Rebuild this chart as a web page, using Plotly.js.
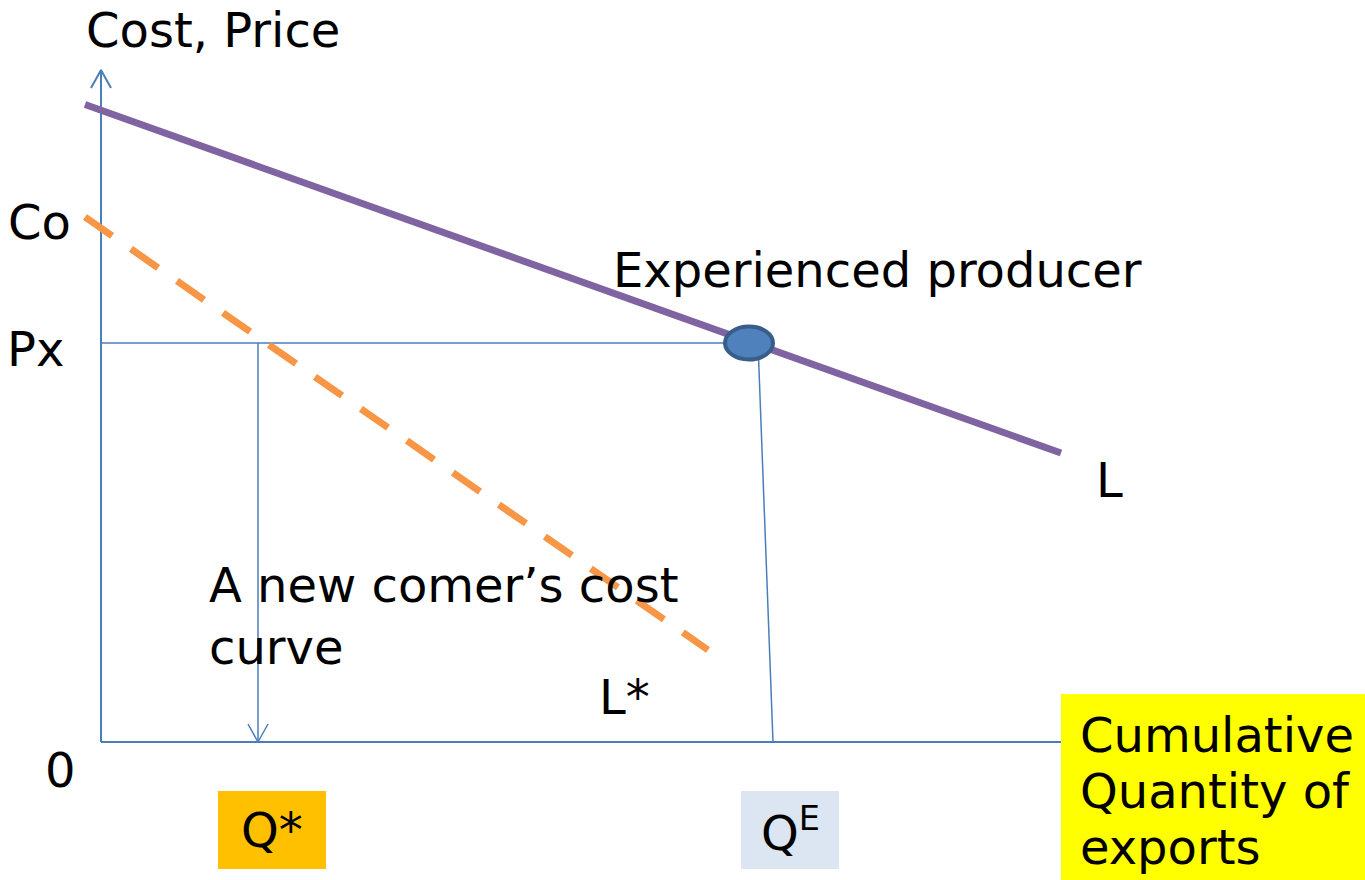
<!DOCTYPE html>
<html>
<head>
<meta charset="utf-8">
<script src="https://cdn.plot.ly/plotly-3.0.1.min.js"></script>
<style>
  html, body { margin: 0; padding: 0; background: #ffffff; }
  #chart { width: 1365px; height: 880px; }
</style>
</head>
<body>
<div id="chart"></div>
<script>
// ---- Data (diagram units: origin at 0, 0) ----
const xAxisEnd = 960;            // end of the quantity axis
const yAxisTop = 672;            // top of the cost/price axis (arrow tip)

const experiencedX = [-16, 960];  // L: experienced producer's cost curve
const experiencedY = [637.5, 289];

const newcomerX = [-16, 607];     // L*: newcomer's cost curve
const newcomerY = [525, 92];

const priceX = 399;               // Px
const qStar = 157;                // Q*
const qE = 672;                   // Q^E (foot of the tilted drop line)
const qETop = 657;                // top of the tilted drop line (inside the marker)
const producerX = 648;            // experienced producer point
const producerY = 399;

const labelTexts = {
  yTitle: "Cost, Price",
  co: "Co",
  px: "Px",
  zero: "0",
  producer: "Experienced producer",
  L: "L",
  Lstar: "L*",
  newcomer: "A new comer’s cost<br>curve",
  qStar: "Q*",
  qE: "Q<sup>E</sup>",
  xTitle: "Cumulative<br>Quantity of<br>exports"
};

// ---- Styles ----
const BLUE = '#4A7EBB';
const PURPLE = '#8064A2';
const ORANGE = '#F79646';
const FONT = { family: 'DejaVu Sans, Verdana, sans-serif', size: 48, color: '#000000' };
const ARM_DX = 10, ARM_DY = 18;

const traces = [];

// axes
traces.push({ x: [0, 0], y: [0, yAxisTop], mode: 'lines', line: { color: BLUE, width: 2 }, hoverinfo: 'skip' });
traces.push({ x: [0, xAxisEnd], y: [0, 0], mode: 'lines', line: { color: BLUE, width: 2 }, hoverinfo: 'skip' });
// y-axis arrow head (open chevron)
traces.push({ x: [-ARM_DX, 0, ARM_DX], y: [yAxisTop - ARM_DY, yAxisTop, yAxisTop - ARM_DY],
  mode: 'lines', line: { color: BLUE, width: 2 }, hoverinfo: 'skip' });

// Px horizontal
traces.push({ x: [0, producerX], y: [priceX, priceX], mode: 'lines', line: { color: BLUE, width: 1.5 }, hoverinfo: 'skip' });
// Q* drop arrow
traces.push({ x: [qStar, qStar], y: [priceX, 0], mode: 'lines', line: { color: BLUE, width: 1.5 }, hoverinfo: 'skip' });
traces.push({ x: [qStar - ARM_DX, qStar, qStar + ARM_DX], y: [ARM_DY, 0, ARM_DY],
  mode: 'lines', line: { color: BLUE, width: 1.5 }, hoverinfo: 'skip' });
// Q^E drop line
traces.push({ x: [qETop, qE], y: [priceX, 0], mode: 'lines', line: { color: BLUE, width: 1.5 }, hoverinfo: 'skip' });

// cost curves
traces.push({ x: newcomerX, y: newcomerY, mode: 'lines',
  line: { color: ORANGE, width: 7, dash: '33px,23px' }, hoverinfo: 'skip' });
traces.push({ x: experiencedX, y: experiencedY, mode: 'lines',
  line: { color: PURPLE, width: 7 }, hoverinfo: 'skip' });

const shapes = [
  // label boxes
  { type: 'rect', xref: 'x', yref: 'y', x0: 960, x1: 1264, y0: 48, y1: -138, fillcolor: '#FFFF00', line: { width: 0 }, layer: 'below' },
  { type: 'rect', xref: 'x', yref: 'y', x0: 117, x1: 225, y0: -49, y1: -127, fillcolor: '#FFC000', line: { width: 0 }, layer: 'below' },
  { type: 'rect', xref: 'x', yref: 'y', x0: 640, x1: 738, y0: -49, y1: -127, fillcolor: '#DCE6F2', line: { width: 0 }, layer: 'below' },
  // producer marker (ellipse)
  { type: 'circle', xref: 'x', yref: 'y', x0: producerX - 24, x1: producerX + 24, y0: producerY - 16.5, y1: producerY + 16.5,
    fillcolor: '#4F81BD', line: { color: '#385D8A', width: 4 }, layer: 'above' }
];

function lab(text, x, y, xanchor) {
  return { text: text, x: x, y: y, xref: 'x', yref: 'y', showarrow: false,
    xanchor: xanchor || 'left', yanchor: 'middle', align: 'left', font: FONT, borderpad: 0 };
}

const annotations = [
  lab(labelTexts.yTitle, -16, 712),
  lab(labelTexts.co, -94, 520),
  lab(labelTexts.px, -95, 393),
  lab(labelTexts.zero, -57, -28),
  lab(labelTexts.producer, 511, 472),
  lab(labelTexts.L, 994, 262),
  lab(labelTexts.Lstar, 497, 45),
  lab(labelTexts.newcomer, 107, 126),
  lab(labelTexts.qStar, 171, -88, 'center'),
  lab(labelTexts.qE, 689, -88, 'center')
];
// x-axis title box: one annotation per line to match the tighter line spacing
labelTexts.xTitle.split('<br>').forEach(function (line, i) {
  annotations.push(lab(line, 978, 7 - 56 * i));
});

const layout = {
  width: 1365, height: 880, autosize: false,
  margin: { l: 0, r: 0, t: 0, b: 0, pad: 0 },
  paper_bgcolor: '#ffffff', plot_bgcolor: '#ffffff',
  showlegend: false,
  xaxis: { range: [-101, 1264], visible: false, fixedrange: true },
  yaxis: { range: [-138, 742], visible: false, fixedrange: true },
  shapes: shapes,
  annotations: annotations
};

Plotly.newPlot('chart', traces, layout, { staticPlot: true, displayModeBar: false });
</script>
</body>
</html>
